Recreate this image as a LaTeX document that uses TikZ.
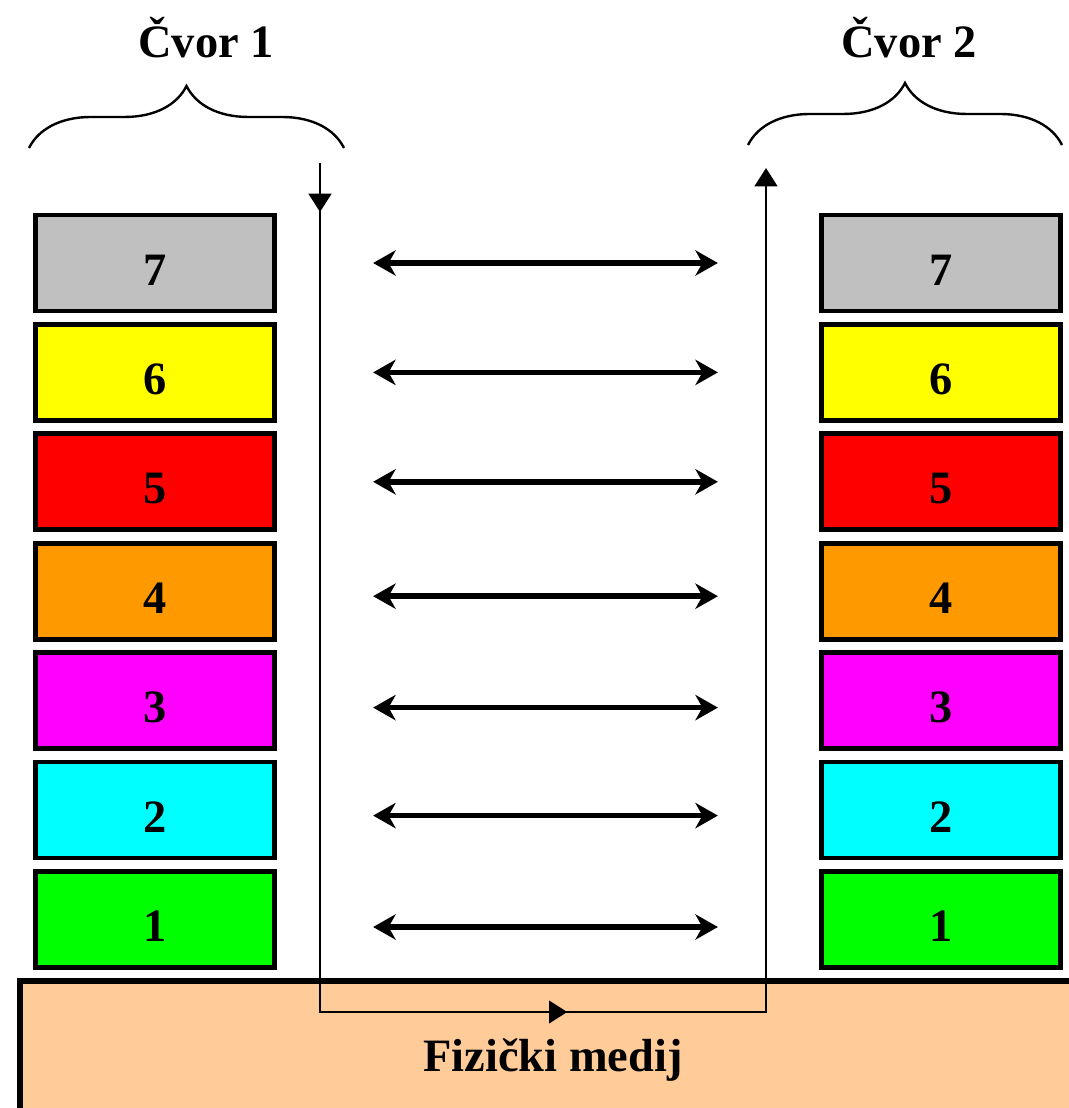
\documentclass[tikz,border=0pt]{standalone}
\usepackage{xcolor}
\usepackage{fontspec}
\setmainfont{Liberation Serif}
\usetikzlibrary{arrows.meta,decorations.pathreplacing,decorations.markings}

\definecolor{sloj7}{HTML}{C0C0C0}
\definecolor{sloj6}{HTML}{FFFF00}
\definecolor{sloj5}{HTML}{FF0000}
\definecolor{sloj4}{HTML}{FF9900}
\definecolor{sloj3}{HTML}{FF00FF}
\definecolor{sloj2}{HTML}{00FFFF}
\definecolor{sloj1}{HTML}{00FF00}
\definecolor{medij}{HTML}{FFCC99}

\begin{document}
\begin{tikzpicture}[x=0.025cm,y=-0.025cm,
    font=\fontsize{33}{38}\selectfont\bfseries,
    sloj/.style={draw,line width=3.5pt,minimum width=5.98cm,minimum height=2.4cm,inner sep=0pt,text height=1.1cm},
    veza/.style={line width=4pt,{Stealth[length=16pt,width=18pt,inset=5pt]}-{Stealth[length=16pt,width=18pt,inset=5pt]},shorten <=2.4cm,shorten >=2.525cm},
    tok/.style={line width=2pt},
    zagrada/.style={decorate,decoration={brace,amplitude=1.55cm},line width=1.7pt}]
                \useasboundingbox (0,0) rectangle (1068,1108);
                \coordinate (dB) at (0,109.4);
                % fizicki medij
                \node[draw,line width=4pt,fill=medij,anchor=north west,minimum width=26.65cm,minimum height=3.8cm,text height=1.0cm] (medij) at (17,978) {Fizički medij};
                % slojevi
                \draw (155,263) node[sloj,fill=sloj7](l7){7}
                ++(dB)node[sloj,fill=sloj6](l6){6}
                ++(dB)node[sloj,fill=sloj5](l5){5}
                ++(dB)node[sloj,fill=sloj4](l4){4}
                ++(dB)node[sloj,fill=sloj3](l3){3}
                ++(dB)node[sloj,fill=sloj2](l2){2}
                ++(dB)node[sloj,fill=sloj1](l1){1};
                \draw (941,263) node[sloj,fill=sloj7](r7){7}
                ++(dB)node[sloj,fill=sloj6](r6){6}
                ++(dB)node[sloj,fill=sloj5](r5){5}
                ++(dB)node[sloj,fill=sloj4](r4){4}
                ++(dB)node[sloj,fill=sloj3](r3){3}
                ++(dB)node[sloj,fill=sloj2](r2){2}
                ++(dB)node[sloj,fill=sloj1](r1){1};
                % veze
                \draw[veza] (l7.east) -- (r7.west);
                \draw[veza] (l6.east) -- (r6.west);
                \draw[veza] (l5.east) -- (r5.west);
                \draw[veza] ([yshift=-0.125cm]l4.east) -- ([yshift=-0.125cm]r4.west);
                \draw[veza] ([yshift=-0.175cm]l3.east) -- ([yshift=-0.175cm]r3.west);
                \draw[veza] ([yshift=-0.14cm]l2.east) -- ([yshift=-0.14cm]r2.west);
                \draw[veza] ([yshift=-0.19cm]l1.east) -- ([yshift=-0.19cm]r1.west);
                % tok podataka
                \coordinate (ul) at (320,163);
                \coordinate (dl) at (320,1012);
                \coordinate (dd) at (766,1012);
                \coordinate (ud) at (766,168);
                \draw[tok,-{Triangle[length=13pt,width=16pt]},postaction={decorate},
                  decoration={markings,
                    mark=at position 1.225cm with {\arrow{Triangle[length=13pt,width=16pt]}},
                    mark=at position 27.4cm with {\arrow{Triangle[length=13pt,width=16pt]}}}]
                  (ul) -- (dl) -- (dd) -- (ud);
                % cvorovi
                \coordinate (z1a) at (29,148);
                \coordinate (z1b) at (344,148);
                \coordinate (z2a) at (748,145);
                \coordinate (z2b) at (1062,145);
                \draw[zagrada] (z1a) -- (z1b);
                \draw[zagrada] (z2a) -- (z2b);
                \node (cvor1) at (206,38) {Čvor 1};
                \node (cvor2) at (909,38) {Čvor 2};
            \end{tikzpicture}
\end{document}
